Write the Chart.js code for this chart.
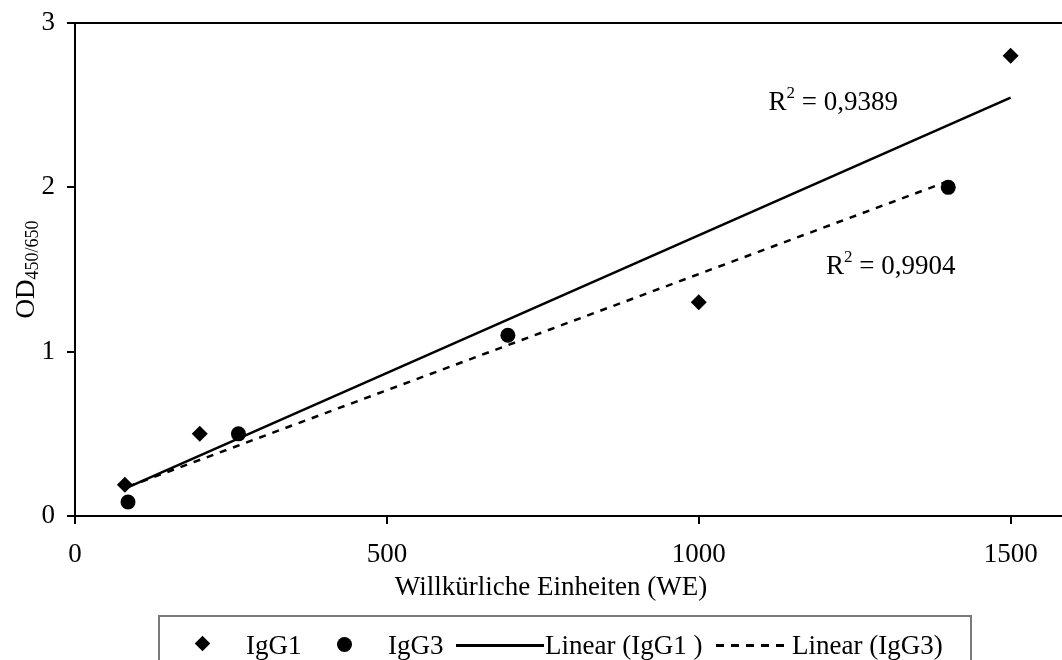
<!DOCTYPE html>
<html>
<head>
<meta charset="utf-8">
<script src="https://cdn.jsdelivr.net/npm/chart.js@4.4.1/dist/chart.umd.min.js"></script>
<style>
  html, body { margin: 0; padding: 0; background: #fff; overflow: hidden; }
  #wrap { position: relative; width: 1062px; height: 660px; overflow: hidden; }
  #chart { position: absolute; left: 0; top: 0; }
  #legend {
    position: absolute; left: 158px; top: 615px; width: 814px; height: 70px;
    border: 2px solid #7a7a7a; box-sizing: border-box;
    font-family: "Liberation Serif", serif; font-size: 27px; color: #000;
  }
  .sym, .txt { position: absolute; }
  .txt { top: 12px; white-space: pre; line-height: 32px; }
  .diamond { top: 21px; width: 11px; height: 11px; background: #000; transform: rotate(45deg); }
  .dot { top: 20px; width: 15px; height: 15px; border-radius: 50%; background: #000; }
  .solid { top: 27px; height: 2.5px; background: #000; }
  .dash { top: 27px; height: 2.5px; background: repeating-linear-gradient(90deg, #000 0 8px, transparent 8px 15px); }
</style>
</head>
<body>
<div id="wrap">
  <canvas id="chart" width="1100" height="700"></canvas>
  <div id="legend"></div>
</div>
<script>
// values
const igg1X = [80, 200, 1000, 1500];
const igg1Y = [0.19, 0.5, 1.3, 2.8];
const igg3X = [85, 262, 694, 1400];
const igg3Y = [0.085, 0.5, 1.1, 2.0];
const xTicks = [0, 500, 1000, 1500];
const yTicks = [0, 1, 2, 3];
const r2Text = ["0,9389", "0,9904"];

const FONT = '"Liberation Serif", serif';

// linear trendline (least squares) between first and last x, like the spreadsheet does
const trend = (xs, ys) => {
    const n = xs.length;
    const mx = xs.reduce((a, b) => a + b, 0) / n;
    const my = ys.reduce((a, b) => a + b, 0) / n;
    let sxy = 0, sxx = 0;
    for (let i = 0; i < n; i++) {
        sxy += (xs[i] - mx) * (ys[i] - my);
        sxx += (xs[i] - mx) * (xs[i] - mx);
    }
    const k = sxy / sxx, d = my - k * mx;
    const x0 = Math.min(...xs), x1 = Math.max(...xs);
    return [{x: x0, y: k * x0 + d}, {x: x1, y: k * x1 + d}];
};

const pts = (xs, ys) => xs.map((x, i) => ({x: x, y: ys[i]}));

// extra text: y title with subscript, x title, R² labels, top/right frame
const extras = {
    id: "extras",
    afterDraw(chart) {
        const ctx = chart.ctx;
        const a = chart.chartArea;
        const sx = chart.scales.x, sy = chart.scales.y;
        ctx.save();
        ctx.strokeStyle = "#000";
        ctx.lineWidth = 2;
        ctx.beginPath();
        ctx.moveTo(a.left, a.top);
        ctx.lineTo(a.right, a.top);
        ctx.lineTo(a.right, a.bottom);
        ctx.stroke();

        ctx.fillStyle = "#000";
        ctx.textBaseline = "alphabetic";

        // x title
        ctx.font = "27px " + FONT;
        ctx.textAlign = "center";
        ctx.fillText("Willkürliche Einheiten (WE)", 551, 595);

        // y title OD450/650
        ctx.save();
        ctx.translate(34, (a.top + a.bottom) / 2);
        ctx.rotate(-Math.PI / 2);
        ctx.textAlign = "left";
        ctx.font = "27px " + FONT;
        const w1 = ctx.measureText("OD").width;
        ctx.font = "18px " + FONT;
        const w2 = ctx.measureText("450/650").width;
        const start = -(w1 + w2) / 2;
        ctx.font = "27px " + FONT;
        ctx.fillText("OD", start, 0);
        ctx.font = "18px " + FONT;
        ctx.fillText("450/650", start + w1, 4);
        ctx.restore();

        // R² labels
        const r2 = (txt, vx, vy) => {
            const px = sx.getPixelForValue(vx), py = sy.getPixelForValue(vy);
            ctx.textAlign = "left";
            ctx.font = "27px " + FONT;
            ctx.fillText("R", px, py);
            let x = px + ctx.measureText("R").width;
            ctx.font = "17px " + FONT;
            ctx.fillText("2", x, py - 12);
            x += ctx.measureText("2").width;
            ctx.font = "27px " + FONT;
            ctx.fillText(" = " + txt, x, py);
        };
        r2(r2Text[0], 1112, 2.47);
        r2(r2Text[1], 1204, 1.47);
        ctx.restore();
    }
};

const chart = new Chart("chart", {
    type: "scatter",
    data: {
        datasets: [{
            label: "IgG1",
            data: pts(igg1X, igg1Y),
            pointStyle: "rectRot",
            pointRadius: 8,
            backgroundColor: "#000",
            borderWidth: 0
        }, {
            label: "IgG3",
            data: pts(igg3X, igg3Y),
            pointStyle: "circle",
            pointRadius: 7.5,
            backgroundColor: "#000",
            borderWidth: 0
        }, {
            label: "Linear (IgG1 )",
            data: trend(igg1X, igg1Y),
            showLine: true,
            pointRadius: 0,
            borderColor: "#000",
            borderWidth: 2.5
        }, {
            label: "Linear (IgG3)",
            data: trend(igg3X, igg3Y),
            showLine: true,
            pointRadius: 0,
            borderColor: "#000",
            borderWidth: 2.5,
            borderDash: [7, 7]
        }]
    },
    options: {
        responsive: false,
        animation: false,
        layout: {padding: {left: 0, top: 23, right: 27, bottom: 0}},
        plugins: {legend: {display: false}, tooltip: {enabled: false}},
        scales: {
            x: {
                type: "linear",
                min: 0, max: 1600,
                afterBuildTicks: (s) => { s.ticks = xTicks.map(v => ({value: v})); },
                afterFit: (s) => { s.height = 184; s.paddingLeft = 0; s.paddingRight = 0; },
                grid: {drawOnChartArea: false, drawTicks: true, tickLength: 8, color: "#000", lineWidth: 2},
                border: {display: true, color: "#000", width: 2},
                ticks: {color: "#000", font: {family: FONT, size: 27}, padding: 15, maxRotation: 0,
                    callback: (v) => String(v)}
            },
            y: {
                type: "linear",
                min: 0, max: 3,
                afterBuildTicks: (s) => { s.ticks = yTicks.map(v => ({value: v})); },
                afterFit: (s) => { s.width = 75; s.paddingTop = 0; s.paddingBottom = 0; },
                grid: {drawOnChartArea: false, drawTicks: true, tickLength: 8, color: "#000", lineWidth: 2},
                border: {display: true, color: "#000", width: 2},
                ticks: {color: "#000", font: {family: FONT, size: 27}, padding: 12,
                    callback: (v) => String(v)}
            }
        }
    },
    plugins: [extras]
});

// html legend built from the datasets; [symbol left, symbol width, text left] inside the box
const legendLayout = [[37, 11, 86], [177, 15, 228], [296, 88, 385], [556, 68, 632]];
const lg = document.getElementById("legend");
chart.data.datasets.forEach((ds, i) => {
    const [sl, sw, tl] = legendLayout[i];
    const sym = document.createElement("span");
    sym.className = "sym " + (ds.showLine ? (ds.borderDash ? "dash" : "solid") : (ds.pointStyle == "rectRot" ? "diamond" : "dot"));
    sym.style.left = sl + "px";
    if (ds.showLine) sym.style.width = sw + "px";
    lg.appendChild(sym);
    const t = document.createElement("span");
    t.className = "txt";
    t.style.left = tl + "px";
    t.textContent = ds.label;
    lg.appendChild(t);
});
</script>
</body>
</html>
